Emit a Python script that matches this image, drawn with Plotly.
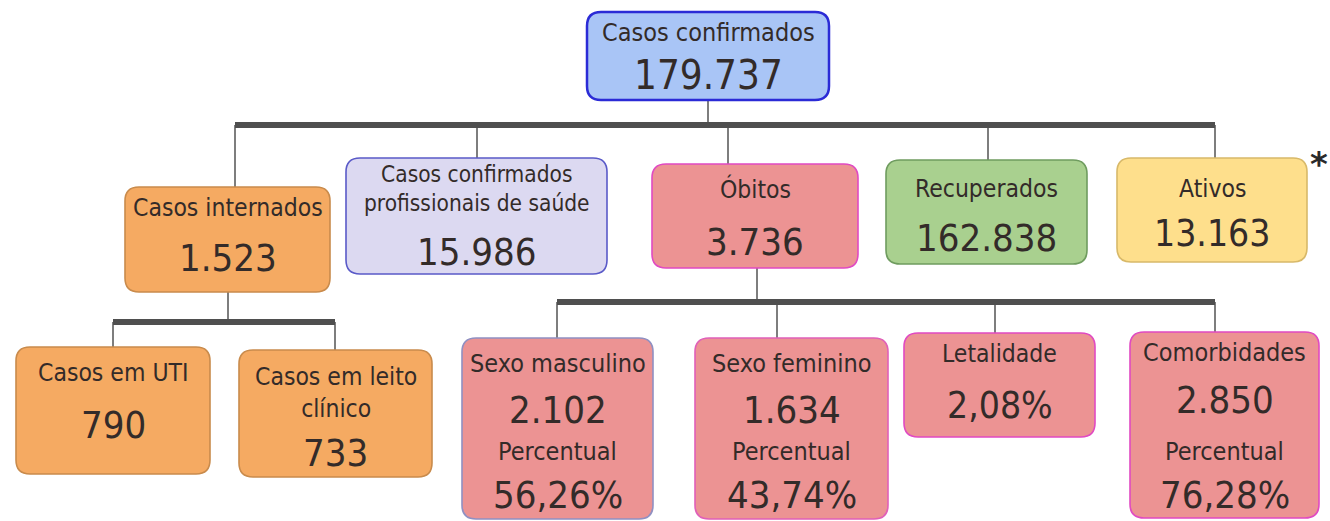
import plotly.graph_objects as go

# ---------------- data ----------------
titles = ["Casos confirmados", "Casos internados", "Casos confirmados<br>profissionais de saúde",
          "Óbitos", "Recuperados", "Ativos", "Casos em UTI", "Casos em leito<br>clínico",
          "Sexo masculino", "Sexo feminino", "Letalidade", "Comorbidades"]
values = ["179.737", "1.523", "15.986", "3.736", "162.838", "13.163", "790", "733",
          "2.102", "1.634", "2,08%", "2.850"]
pct_label = "Percentual"
pct_values = {8: "56,26%", 9: "43,74%", 11: "76,28%"}
parents = [None, 0, 0, 0, 0, 0, 1, 1, 3, 3, 3, 3]

# ---------------- layout (positions / styles) ----------------
W, H = 1330, 521
boxes = [  # x0, y0, x1, y1
    (587, 12, 829, 100),
    (125, 187, 330, 292),
    (346, 158, 607, 274),
    (652, 164, 858, 268),
    (886, 160, 1087, 264),
    (1117, 158, 1307, 262),
    (16, 347, 210, 474),
    (239, 350, 432, 477),
    (462, 338, 653, 519),
    (695, 338, 888, 519),
    (904, 333, 1095, 437),
    (1130, 332, 1319, 518),
]
fills = ["#a9c5f6", "#f5aa62", "#dcd9f1", "#ec9393", "#a9d08f", "#fedf8c",
         "#f5aa62", "#f5aa62", "#ec9393", "#ec9393", "#ec9393", "#ec9393"]
borders = ["#2b2bd6", "#c98b4c", "#5a5ac8", "#e04ac2", "#6f9c5f", "#d8b969",
           "#c98b4c", "#c98b4c", "#9090c2", "#e060b8", "#e04ac2", "#e04ac2"]
# title y, value y, percent-label y, percent value y
title_y = [32, 207, 188, 189, 188, 188, 372, 392, 363, 363, 353, 352]
value_y = [75, 258, 252, 242, 238, 233, 425, 453, 410, 410, 405, 400]
pct_y = (451, 495)
title_size = [25, 24.5, 22.5, 24.5, 24.5, 24.5, 24.5, 24.5, 25, 25, 24.5, 25]
value_size = [40, 38, 38, 38, 38, 37, 38, 38, 38, 38, 37, 38]
# connector x positions (where child branches hit bus) and bus y for each parent
conn_x = {1: 235, 2: 477, 3: 728, 4: 988, 5: 1215, 6: 113, 7: 335,
          8: 557, 9: 777, 10: 995, 11: 1215}
parent_x = {0: 708, 1: 228, 3: 757}
bus_y = {0: 125, 1: 322, 3: 302}

FONT = "DejaVu Sans Condensed, DejaVu Sans, sans-serif"
TXT = "#332b29"


def rounded(x0, y0, x1, y1, r=14):
    return (f"M{x0+r},{y0} L{x1-r},{y0} Q{x1},{y0} {x1},{y0+r} "
            f"L{x1},{y1-r} Q{x1},{y1} {x1-r},{y1} L{x0+r},{y1} "
            f"Q{x0},{y1} {x0},{y1-r} L{x0},{y0+r} Q{x0},{y0} {x0+r},{y0} Z")


fig = go.Figure()
shapes = []
annotations = []

# connectors
for p in bus_y:
    kids = [i for i, q in enumerate(parents) if q == p]
    by = bus_y[p]
    shapes.append(dict(type="line", x0=parent_x[p], x1=parent_x[p], y0=boxes[p][3], y1=by,
                       line=dict(color="#707070", width=1.8), layer="below"))
    xs = [conn_x[k] for k in kids] + [parent_x[p]]
    for k in kids:
        shapes.append(dict(type="line", x0=conn_x[k], x1=conn_x[k], y0=by, y1=boxes[k][1],
                           line=dict(color="#707070", width=1.8), layer="below"))
    shapes.append(dict(type="line", x0=min(xs), x1=max(xs), y0=by, y1=by,
                       line=dict(color="#4f4f4f", width=6), layer="below"))

# boxes
for i, b in enumerate(boxes):
    shapes.append(dict(type="path", path=rounded(*b), fillcolor=fills[i],
                       line=dict(color=borders[i], width=2.5 if i == 0 else 1.6), layer="below"))
    cx = (b[0] + b[2]) / 2
    annotations.append(dict(x=cx, y=title_y[i], text=titles[i], showarrow=False,
                            font=dict(family=FONT, size=title_size[i], color=TXT),
                            xanchor="center", yanchor="middle"))
    annotations.append(dict(x=cx, y=value_y[i], text=values[i], showarrow=False,
                            font=dict(family=FONT, size=value_size[i], color=TXT),
                            xanchor="center", yanchor="middle"))
    if i in pct_values:
        annotations.append(dict(x=cx, y=pct_y[0], text=pct_label, showarrow=False,
                                font=dict(family=FONT, size=25, color=TXT),
                                xanchor="center", yanchor="middle"))
        annotations.append(dict(x=cx, y=pct_y[1], text=pct_values[i], showarrow=False,
                                font=dict(family=FONT, size=38, color=TXT),
                                xanchor="center", yanchor="middle"))

annotations.append(dict(x=1319, y=164, text="<b>*</b>", showarrow=False,
                        font=dict(family="DejaVu Sans, sans-serif", size=34, color="#2a2a2a"),
                        xanchor="center", yanchor="middle"))

fig.update_layout(
    width=W, height=H, margin=dict(l=0, r=0, t=0, b=0),
    paper_bgcolor="white", plot_bgcolor="white",
    xaxis=dict(range=[0, W], visible=False, fixedrange=True),
    yaxis=dict(range=[H, 0], visible=False, fixedrange=True),
    shapes=shapes, annotations=annotations, showlegend=False,
)
fig.write_html("out.html", config={"displayModeBar": False},
               post_script="document.body.style.margin='0';document.body.style.padding='0';"
                           "document.body.style.overflow='hidden';")
